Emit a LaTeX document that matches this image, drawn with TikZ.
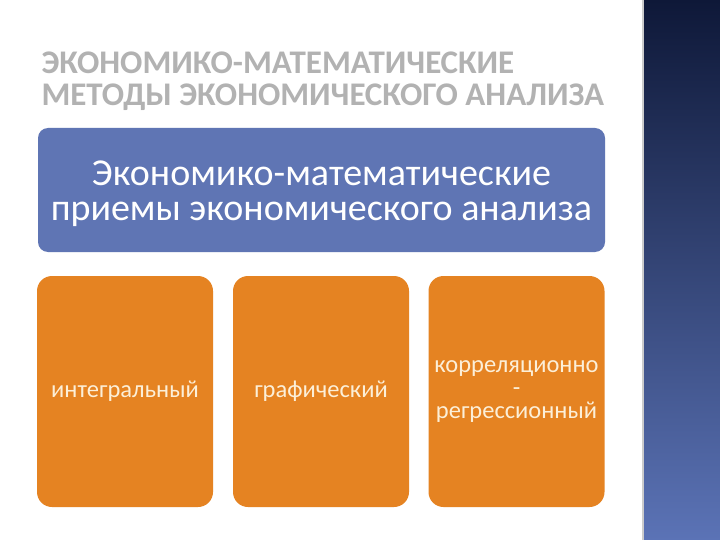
\documentclass[tikz,border=0pt]{standalone}
\usepackage{fontspec}
\setmainfont{Carlito}
\definecolor{headblue}{HTML}{5F75B4}
\definecolor{cardorange}{HTML}{E58322}
\definecolor{cardtext}{HTML}{FCEFD8}
\definecolor{bartop}{HTML}{0E1838}
\definecolor{barbottom}{HTML}{5B73B6}
\begin{document}
\begin{tikzpicture}[x=1pt,y=-1pt,
	headbox/.style={fill=headblue, rounded corners=10pt, minimum width=567pt, minimum height=124pt},
	headtext/.style={anchor=base, inner sep=0pt, text=white, font=\fontsize{38}{38}\selectfont},
	card/.style={fill=cardorange, rounded corners=15pt, minimum width=176pt, minimum height=231pt,
		align=center, text=cardtext, font=\fontsize{24.5}{23}\selectfont},
	titletext/.style={anchor=base west, text=gray!60, font=\fontsize{33}{33}\bfseries\selectfont}]
	\useasboundingbox (0,0) rectangle (720,540);
	\fill[white] (0,0) rectangle (720,540);
	% side bar
	\shade[top color=bartop, bottom color=barbottom] (643,0) rectangle (720,540);
	\draw[gray!40, line width=2pt] (643,0) -- (643,540);
	% title
	\node[titletext] (title1) at (38,74) {ЭКОНОМИКО-МАТЕМАТИЧЕСКИЕ};
	\node[titletext] (title2) at (38,106) {МЕТОДЫ ЭКОНОМИЧЕСКОГО АНАЛИЗА};
	% blocks
	\node[headbox] (head) at (321.5,190) {};
	\node[headtext] (head1) at (321.5,186) {Экономико-математические};
	\node[headtext] (head2) at (321.5,221) {приемы экономического анализа};
	\node[card] (integral) at (125,391.5) {интегральный};
	\node[card] (graphic) at (321,391.5) {графический};
	\node[card] (correl) at (516.5,391.5) {корреляционно\\-\\регрессионный};
\end{tikzpicture}
\end{document}
